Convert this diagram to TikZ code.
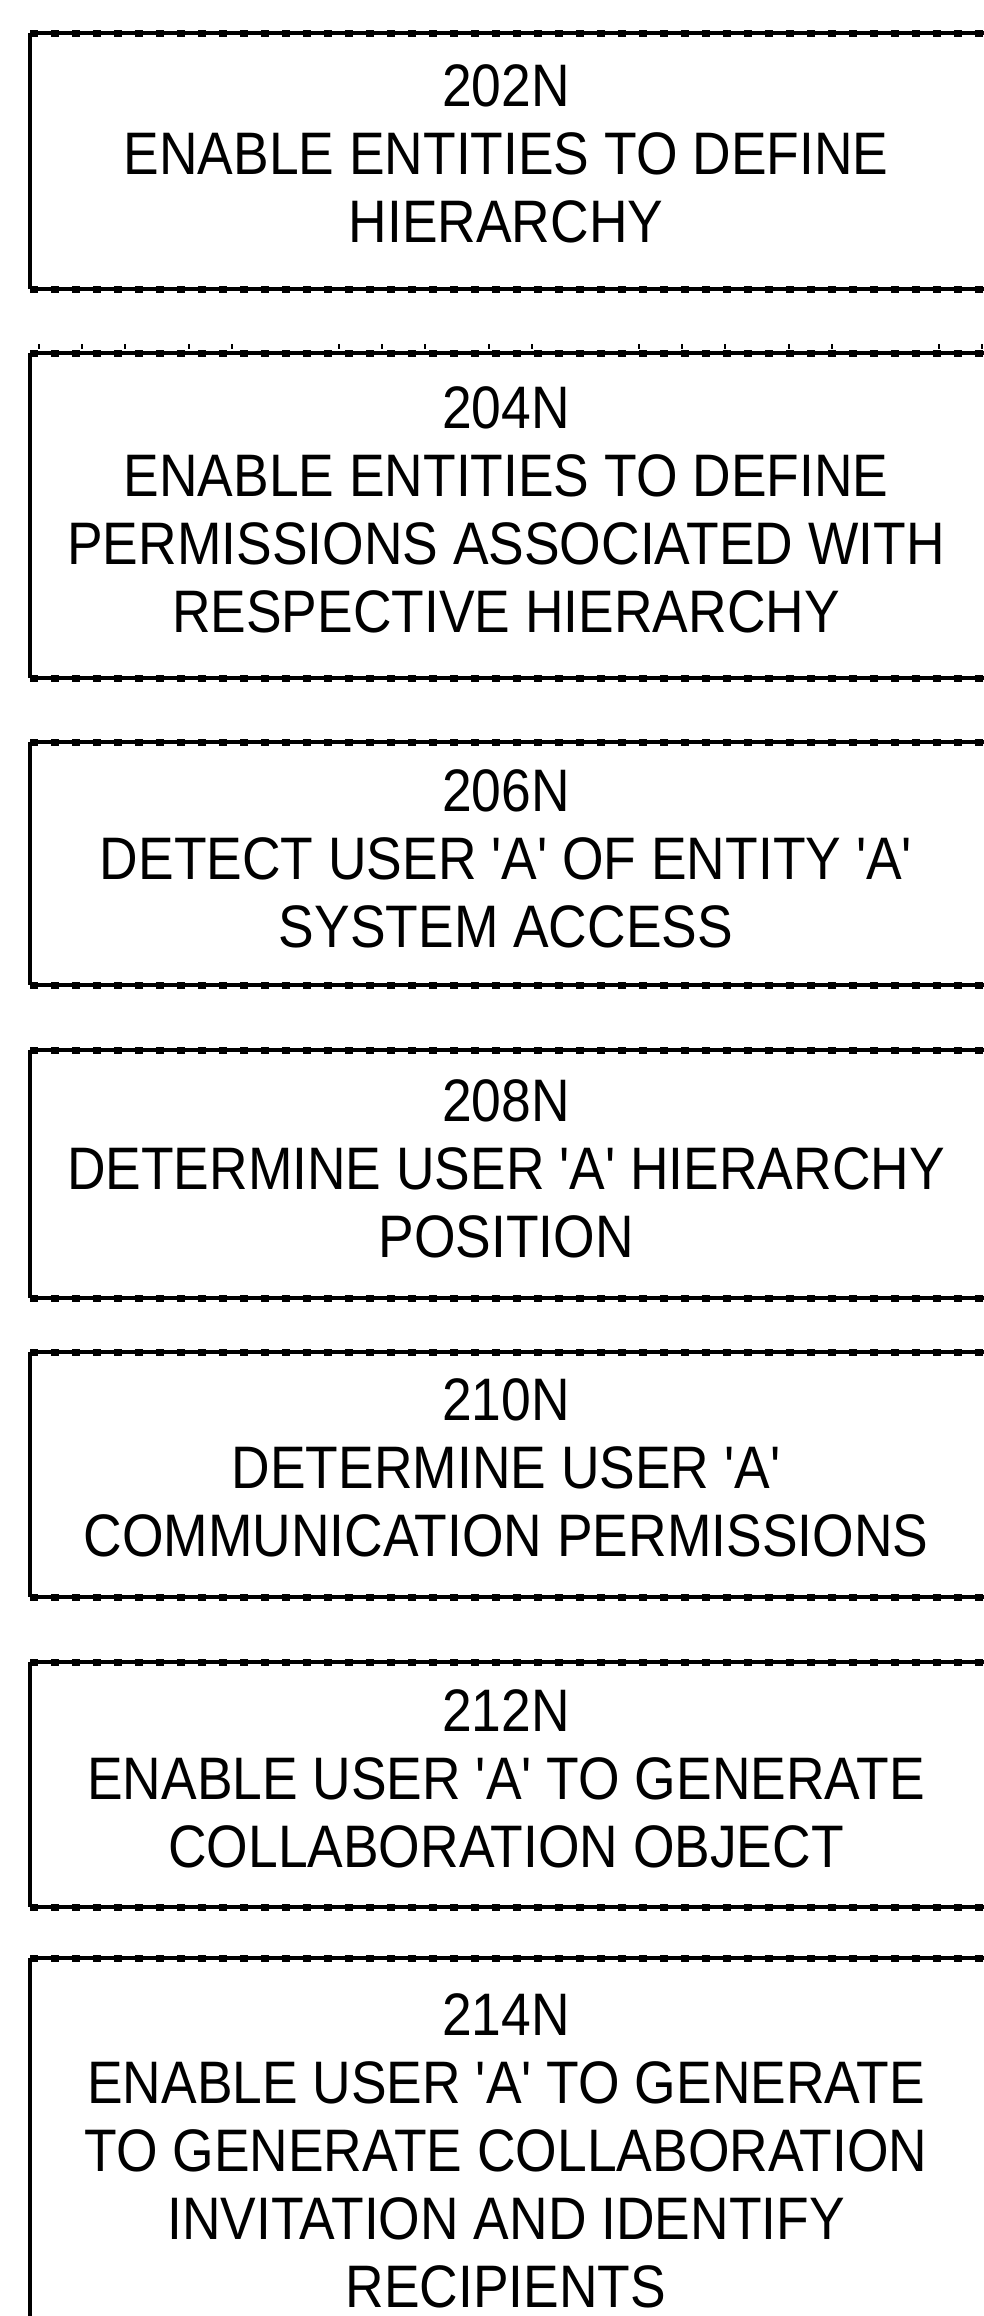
\documentclass[tikz,border=0pt]{standalone}
\usepackage{fontspec}
\setmainfont{Liberation Sans}[FakeStretch=0.89,Ligatures=TeXOff]
\begin{document}
\begin{tikzpicture}[x=1pt,y=-1pt,
  boxarea/.style={draw=none,inner sep=0pt,outer sep=0pt,minimum width=960pt},
  rim/.style={line width=4pt,black},
  rimteeth/.style={line width=7pt,black,dash pattern=on 8pt off 13pt},
  side/.style={line width=3.5pt,black},
  ticks/.style={line width=5pt,black,dash pattern=on 2pt off 41pt on 2pt off 41pt on 2pt off 62pt on 2pt off 41pt on 2pt off 105pt},
  steptext/.style={align=center,inner sep=0pt,font=\fontsize{60}{68}\selectfont}]
\useasboundingbox (0,0) rectangle (983,2316);
\fill[white] (0,0) rectangle (983,2316);
\foreach \n/\t/\b in {202/33/289,204/353/678,206/742/985,208/1050/1298,210/1352/1597,212/1662/1907,214/1958/2370}{
  \node[boxarea,minimum height={\b-\t}] (box\n) at (510,{(\t+\b)/2}) {};
  \draw[side] (box\n.north west) -- (box\n.south west);
  \draw[rim] (box\n.north west) -- (box\n.north east);
  \draw[rimteeth] (box\n.north west) -- (box\n.north east);
  \draw[rim] (box\n.south west) -- (box\n.south east);
  \draw[rimteeth] (box\n.south west) -- (box\n.south east);
}
\coordinate (tk1) at (38,346);
\coordinate (tk2) at (983,346);
\draw[ticks] (tk1) -- (tk2);
\node[steptext] (t202) at (506,153.5) {202N\\ENABLE ENTITIES TO DEFINE\\HIERARCHY};
\node[steptext] (t204) at (506,510) {204N\\ENABLE ENTITIES TO DEFINE\\PERMISSIONS ASSOCIATED WITH\\RESPECTIVE HIERARCHY};
\node[steptext] (t206) at (506,858.5) {206N\\DETECT USER 'A' OF ENTITY 'A'\\SYSTEM ACCESS};
\node[steptext] (t208) at (506,1168.5) {208N\\DETERMINE USER 'A' HIERARCHY\\POSITION};
\node[steptext] (t210) at (506,1467.5) {210N\\DETERMINE USER 'A'\\COMMUNICATION PERMISSIONS};
\node[steptext] (t212) at (506,1778.5) {212N\\ENABLE USER 'A' TO GENERATE\\COLLABORATION OBJECT};
\node[steptext] (t214) at (506,2151) {214N\\ENABLE USER 'A' TO GENERATE\\TO GENERATE COLLABORATION\\INVITATION AND IDENTIFY\\RECIPIENTS};
\end{tikzpicture}
\end{document}
